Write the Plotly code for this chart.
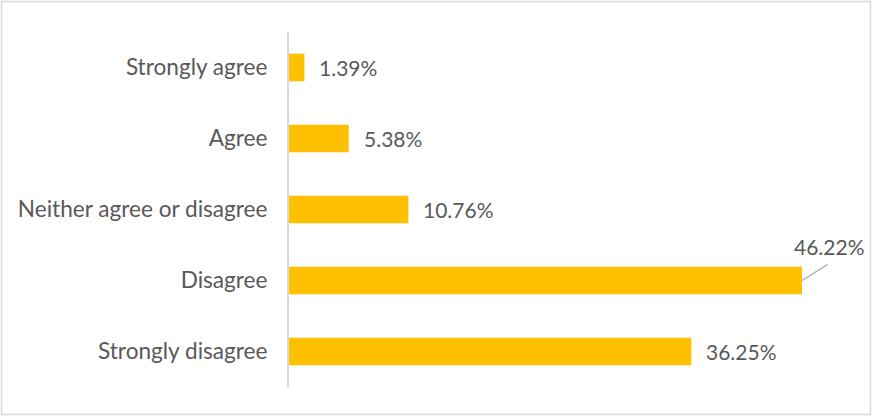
import plotly.graph_objects as go

# Survey responses, listed top to bottom
categories = ["Strongly agree", "Agree", "Neither agree or disagree", "Disagree", "Strongly disagree"]
shares = [1.39, 5.38, 10.76, 46.22, 36.25]
share_labels = ["1.39%", "5.38%", "10.76%", "46.22%", "36.25%"]

BAR_COLOR = "#FFC000"
TEXT_COLOR = "#595959"
FRAME_COLOR = "#D9D9D9"
FONT = "Lato, 'Open Sans', sans-serif"
VALUE_SIZE = 21
TICK_SIZE = 22.6

W, H = 872, 416
ML, MR, MT, MB = 289, 28, 32, 29

fig = go.Figure(
    go.Bar(
        y=categories,
        x=shares,
        orientation="h",
        marker=dict(color=BAR_COLOR, line=dict(width=0)),
        width=0.39,
        hoverinfo="skip",
    )
)

# value labels beside each bar; the largest one sits above with a leader line
value_font = dict(family=FONT, size=VALUE_SIZE, color=TEXT_COLOR)
annotations = []
for cat, val, lab in zip(categories, shares, share_labels):
    if val == max(shares):
        annotations.append(dict(
            x=val, y=cat, xref="x", yref="y", text=lab,
            showarrow=False, xanchor="center", yanchor="middle",
            xshift=27, yshift=34, font=value_font,
        ))
        # leader line from the bar end to the foot of the label
        annotations.append(dict(
            x=val, y=cat, xref="x", yref="y", text="",
            showarrow=True, arrowhead=0, arrowwidth=1.2, arrowcolor="#A6A6A6",
            ax=27, ay=-17, startstandoff=0, standoff=0,
        ))
    else:
        annotations.append(dict(
            x=val, y=cat, xref="x", yref="y", text=lab,
            showarrow=False, xanchor="left", yanchor="middle", xshift=13,
            font=value_font,
        ))

pw = W - ML - MR
ph = H - MT - MB
frame = dict(
    type="rect", xref="paper", yref="paper",
    x0=(1.5 - ML) / pw, x1=(870.5 - ML) / pw,
    y0=(H - MB - 414.5) / ph, y1=(H - MB - 1.5) / ph,
    line=dict(color=FRAME_COLOR, width=1.5), layer="below",
)

fig.update_layout(
    width=W, height=H,
    margin=dict(l=ML, r=MR, t=MT, b=MB, pad=0),
    paper_bgcolor="white", plot_bgcolor="white",
    showlegend=False,
    font=dict(family=FONT, size=VALUE_SIZE, color=TEXT_COLOR),
    xaxis=dict(range=[0, 50], visible=False, showgrid=False, zeroline=False, fixedrange=True),
    yaxis=dict(
        autorange="reversed", showgrid=False, zeroline=False,
        showline=True, linecolor=FRAME_COLOR, linewidth=2,
        ticks="", ticklabelstandoff=15,
        tickfont=dict(family=FONT, size=TICK_SIZE, color=TEXT_COLOR),
        fixedrange=True,
    ),
    annotations=annotations,
    shapes=[frame],
)

fig.write_html("out.html", config=dict(displayModeBar=False))
